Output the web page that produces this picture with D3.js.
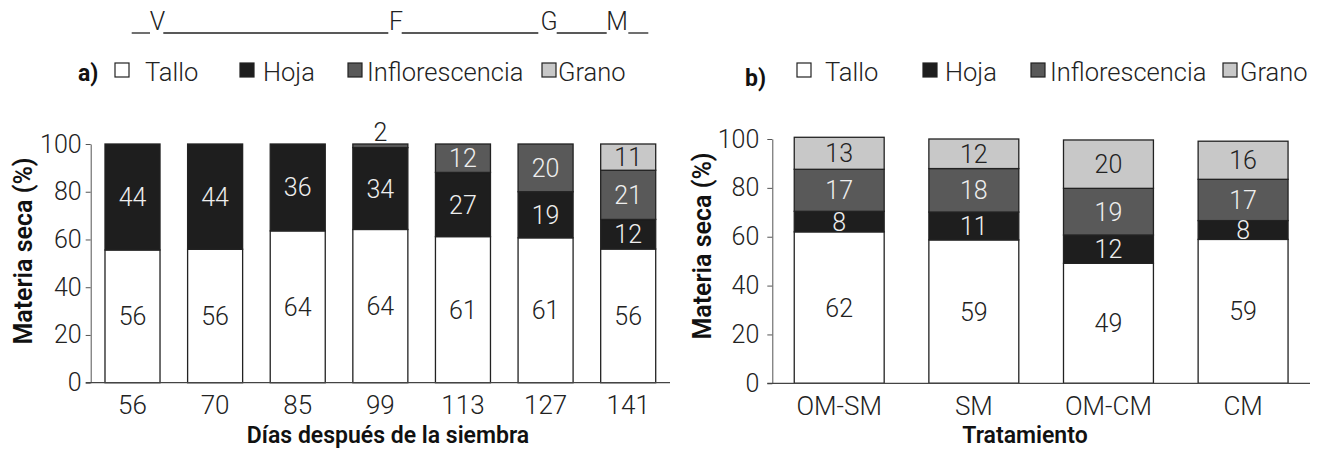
<!DOCTYPE html>
<html>
<head>
<meta charset="utf-8">
<script src="https://cdn.jsdelivr.net/npm/d3@7"></script>
<style>
  body { margin: 0; background: #fff; }
  svg text { font-family: Roboto, "Noto Sans", sans-serif; }
</style>
</head>
<body>
<svg id="chart" width="1317" height="449"></svg>
<script>
// a) materia seca por fecha de muestreo (dias despues de la siembra)
let dias = ["56", "70", "85", "99", "113", "127", "141"];
let diasTallo = [55.6, 55.9, 63.6, 64.2, 61.2, 60.7, 56.0];
let diasHoja = [44.4, 44.1, 36.4, 34.3, 26.9, 19.3, 12.4];
let diasInflorescencia = [0, 0, 0, 1.5, 11.9, 20.0, 20.6];
let diasGrano = [0, 0, 0, 0, 0, 0, 11.0];

// b) materia seca por tratamiento
let tratamientos = ["OM-SM", "SM", "OM-CM", "CM"];
let tratTallo = [62.0, 58.7, 49.1, 58.9];
let tratHoja = [8.4, 11.4, 11.6, 7.7];
let tratInflorescencia = [17.2, 17.8, 19.1, 16.9];
let tratGrano = [13.1, 12.1, 19.8, 15.6];

let organos = ["Tallo", "Hoja", "Inflorescencia", "Grano"];
let etapas = ["V", "F", "G", "M"];
let yTicks = [0, 20, 40, 60, 80, 100];

let fills = {Tallo: "#ffffff", Hoja: "#1e1e1e", Inflorescencia: "#595959", Grano: "#c8c8c8"};
let labelFill = {Tallo: "#222", Hoja: "#eee", Inflorescencia: "#eee", Grano: "#222"};

let svg = d3.select("#chart");

let drawPanel = function(opt) {
  let rows = opt.categories.map((c, i) => {
    let r = {cat: c};
    organos.forEach((k, j) => { r[k] = opt.values[j][i]; });
    return r;
  });
  let stacked = d3.stack().keys(organos)(rows);
  let segments = stacked.flatMap(s => s.map(p => ({key: s.key, cat: p.data.cat, y0: p[0], y1: p[1]})))
    .filter(d => d.y1 - d.y0 > 0);

  let x = d3.scaleBand()
    .domain(opt.categories)
    .range([opt.left, opt.right])
    .paddingInner(opt.padIn)
    .paddingOuter(opt.padOut);
  let y = d3.scaleLinear().domain([0, 100]).range([opt.bottom, opt.top]);

  let g = svg.append("g");

  // y axis
  let yAxis = g.append("g")
    .attr("transform", `translate(${opt.left},0)`)
    .call(d3.axisLeft(y).tickValues(yTicks).tickSize(5).tickSizeOuter(0).tickPadding(opt.tickPad));
  yAxis.selectAll("path, line").attr("stroke", "#555");
  yAxis.selectAll("text")
    .attr("fill", "#222")
    .style("font-size", "25px")
    .style("font-weight", 300);

  // bars
  g.selectAll("rect.seg")
    .data(segments)
    .join("rect")
    .attr("class", "seg")
    .attr("x", d => x(d.cat))
    .attr("width", x.bandwidth())
    .attr("y", d => y(d.y1))
    .attr("height", d => y(d.y0) - y(d.y1))
    .attr("fill", d => fills[d.key])
    .attr("stroke", "#222")
    .attr("stroke-width", 1.3);

  // value labels
  g.selectAll("text.val")
    .data(segments)
    .join("text")
    .attr("class", "val")
    .attr("x", d => x(d.cat) + x.bandwidth() / 2)
    .attr("y", d => (d.y1 - d.y0) < 4 ? y(d.y1) - 3 : (y(d.y0) + y(d.y1)) / 2)
    .attr("dy", d => (d.y1 - d.y0) < 4 ? "0" : "0.36em")
    .attr("text-anchor", "middle")
    .attr("fill", d => (d.y1 - d.y0) < 4 ? "#222" : labelFill[d.key])
    .style("font-size", "25px")
    .style("font-weight", 300)
    .text(d => Math.round(d.y1 - d.y0));

  // baseline
  g.append("line")
    .attr("x1", opt.left - 5).attr("x2", opt.right)
    .attr("y1", y(0)).attr("y2", y(0))
    .attr("stroke", "#444").attr("stroke-width", 1.3);

  // x axis labels
  let xAxis = g.append("g")
    .attr("transform", `translate(0,${opt.bottom})`)
    .call(d3.axisBottom(x).tickSize(0).tickPadding(13));
  xAxis.select(".domain").remove();
  xAxis.selectAll("text")
    .attr("fill", "#222")
    .style("font-size", "26px")
    .style("font-weight", 300);

  // titles
  g.append("text")
    .attr("x", opt.xTitleX).attr("y", 443)
    .attr("text-anchor", "middle")
    .attr("fill", "#111")
    .style("font-size", "23px")
    .style("font-weight", 600)
    .text(opt.xTitle);
  g.append("text")
    .attr("transform", `translate(${opt.yTitleX},${opt.yTitleY}) rotate(-90)`)
    .attr("text-anchor", "middle")
    .attr("fill", "#111")
    .style("font-size", "25px")
    .style("font-weight", 600)
    .text("Materia seca (%)");

  // legend
  let leg = g.append("g");
  leg.append("text")
    .attr("x", opt.panelX).attr("y", opt.panelY)
    .attr("fill", "#111")
    .style("font-size", "23px")
    .style("font-weight", 700)
    .text(opt.panel);
  organos.forEach((k, i) => {
    leg.append("rect")
      .attr("x", opt.legendX[i]).attr("y", 63)
      .attr("width", 14).attr("height", 14)
      .attr("fill", fills[k])
      .attr("stroke", "#222").attr("stroke-width", 1.2);
    leg.append("text")
      .attr("x", opt.legendX[i] + opt.legendGap[i]).attr("y", 81)
      .attr("fill", "#222")
      .style("font-size", "25.5px")
      .style("font-weight", 300)
      .text(k);
  });
};

drawPanel({
  categories: dias,
  values: [diasTallo, diasHoja, diasInflorescencia, diasGrano],
  left: 90.7, right: 670, top: 144, bottom: 382.7,
  padIn: 0.334, padOut: 0.173, tickPad: 4,
  xTitle: "Días después de la siembra", xTitleX: 388,
  yTitleX: 32, yTitleY: 251,
  panel: "a)", panelX: 78, panelY: 81,
  legendX: [115, 240, 348, 542], legendGap: [30, 23, 19, 16]
});

drawPanel({
  categories: tratamientos,
  values: [tratTallo, tratHoja, tratInflorescencia, tratGrano],
  left: 772.3, right: 1310, top: 139, bottom: 383.3,
  padIn: 0.332, padOut: 0.163, tickPad: 8,
  xTitle: "Tratamiento", xTitleX: 1025,
  yTitleX: 711, yTitleY: 246,
  panel: "b)", panelX: 745, panelY: 86,
  legendX: [797, 923, 1031, 1223], legendGap: [28, 22, 19, 17]
});

// etapas fenologicas sobre el panel a
let etapaX = [157.5, 396, 549, 617];
let trazos = [[131.7, 150], [163.3, 388.3], [401.7, 538.3], [556.7, 606.7], [628.3, 648.3]];
svg.append("g").selectAll("line")
  .data(trazos)
  .join("line")
  .attr("x1", d => d[0]).attr("x2", d => d[1])
  .attr("y1", 33).attr("y2", 33)
  .attr("stroke", "#222").attr("stroke-width", 1.3);
svg.append("g").selectAll("text")
  .data(etapas)
  .join("text")
  .attr("x", (d, i) => etapaX[i]).attr("y", 30)
  .attr("text-anchor", "middle")
  .attr("fill", "#222")
  .style("font-size", "25px")
  .style("font-weight", 300)
  .text(d => d);
</script>
</body>
</html>
